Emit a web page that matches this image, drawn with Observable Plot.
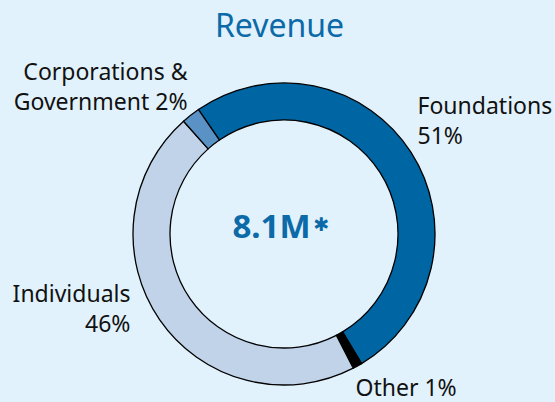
<!DOCTYPE html>
<html>
<head>
<meta charset="utf-8">
<script src="https://cdn.jsdelivr.net/npm/d3@7"></script>
<script src="https://cdn.jsdelivr.net/npm/@observablehq/plot@0.6"></script>
<style>
  html, body { margin: 0; padding: 0; background: #e1f2fc; }
  #chart svg { display: block; }
</style>
</head>
<body>
<div id="chart"></div>
<script>
// ---- data ----
const categories = ["Foundations", "Other", "Individuals", "Corporations & Government"];
const shares = [51, 1, 46, 2];
const labelLines = [["Foundations", "51%"], ["Other 1%"], ["Individuals", "46%"], ["Corporations &", "Government 2%"]];
const title = "Revenue";
const totalLabel = "8.1M";

// ---- styling / layout ----
const colors = ["#0066a3", "#000000", "#c1d3e8", "#5b92c6"];
const blue = "#0b6aa7";
const font = "'Noto Sans', sans-serif";
const cx = 284, cy = 234, rOuter = 151, rInner = 114;
const startDeg = -34.5;
const labelPos = [
  {x: 417, y: 113, anchor: "start"},
  {x: 355, y: 395, anchor: "start"},
  {x: 130, y: 301, anchor: "end"},
  {x: 187, y: 79, anchor: "end"}
];
const lineH = 30;

const slices = categories.map((c, i) => ({category: c, share: shares[i], color: colors[i]}));
const labelRows = [];
labelLines.forEach((lines, i) => lines.forEach((t, j) => labelRows.push({
  text: t, x: labelPos[i].x, y: labelPos[i].y + j * lineH, anchor: labelPos[i].anchor
})));

function donut(index, scales) {
  const x0 = scales.x(cx), y0 = scales.y(cy);
  const rO = scales.x(cx + rOuter) - x0, rI = scales.x(cx + rInner) - x0;
  const pie = d3.pie().sort(null).value(d => d.share)
    .startAngle(startDeg * Math.PI / 180).endAngle(startDeg * Math.PI / 180 + 2 * Math.PI);
  const arc = d3.arc().innerRadius(rI).outerRadius(rO);
  const g = d3.create("svg:g").attr("transform", `translate(${x0},${y0})`);
  g.selectAll("path").data(pie(slices)).join("path")
    .attr("d", arc)
    .attr("fill", d => d.data.color)
    .attr("stroke", "#000")
    .attr("stroke-width", 1.3);
  return g.node();
}

const labelStyle = {x: "x", y: "y", text: "text", fill: "#111", fontSize: 23, lineAnchor: "bottom"};

const chart = Plot.plot({
  width: 555,
  height: 402,
  margin: 0,
  x: {domain: [0, 555], range: [0, 555], axis: null},
  y: {domain: [0, 402], range: [0, 402], axis: null},
  style: {background: "#e1f2fc", fontFamily: font},
  marks: [
    donut,
    Plot.text([title], {x: () => 279, y: () => 36, text: d => d, fill: blue, fontSize: 32, lineAnchor: "bottom"}),
    Plot.text(labelRows.filter(d => d.anchor === "start"), {...labelStyle, textAnchor: "start"}),
    Plot.text(labelRows.filter(d => d.anchor === "end"), {...labelStyle, textAnchor: "end"}),
    Plot.text([totalLabel], {x: () => 271, y: () => 237, text: d => d, fill: blue, fontSize: 33, fontWeight: "bold", lineAnchor: "bottom"}),
    Plot.text(["✱"], {x: () => 321, y: () => 230, text: d => d, fill: blue, fontSize: 19, fontFamily: "DejaVu Sans", lineAnchor: "bottom"})
  ]
});
document.getElementById("chart").append(chart);
</script>
</body>
</html>
